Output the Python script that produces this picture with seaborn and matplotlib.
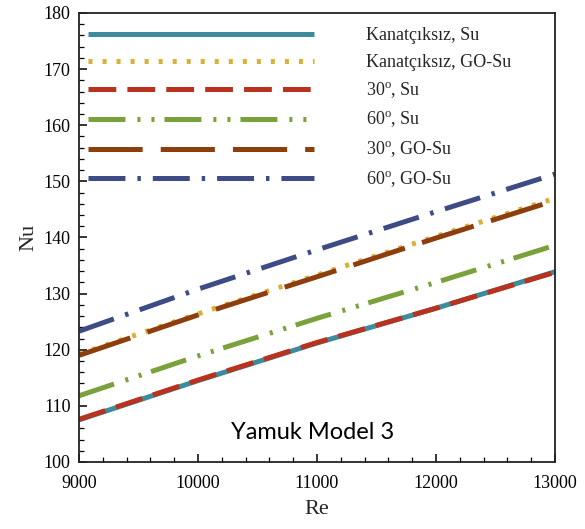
import matplotlib
matplotlib.use("Agg")
import matplotlib.pyplot as plt
import seaborn as sns
import numpy as np

# Reynolds numbers and Nusselt numbers for each configuration
re_values = [9000, 10000, 11000, 12000, 13000]
nu_plain_water = [107.5, 114.5, 121.2, 127.4, 133.9]
nu_plain_go = [119.2, 126.4, 133.3, 140.2, 147.0]
nu_30_water = [107.6, 114.6, 121.3, 127.4, 133.8]
nu_60_water = [111.8, 118.9, 125.6, 132.0, 138.6]
nu_30_go = [119.0, 126.2, 133.0, 139.9, 146.6]
nu_60_go = [123.3, 130.8, 137.8, 144.6, 151.3]

labels = [
    "Kanatçıksız, Su",
    "Kanatçıksız, GO-Su",
    "30$^{\\mathrm{o}}$, Su",
    "60$^{\\mathrm{o}}$, Su",
    "30$^{\\mathrm{o}}$, GO-Su",
    "60$^{\\mathrm{o}}$, GO-Su",
]
series = [nu_plain_water, nu_plain_go, nu_30_water, nu_60_water, nu_30_go, nu_60_go]
colors = ["#3D8C9E", "#D9B13A", "#B8321E", "#7AA23C", "#8E3E0C", "#3E4C85"]
styles = [
    "-",
    (0, (2.9, 7.2)),
    (0, (20, 8)),
    (0, (26.6, 8.6, 2.2, 7.9, 2.2, 7.2)),
    (0, (39, 13)),
    (0, (26.6, 8.6, 2.5, 8.6)),
]

sns.set_style("white")
plt.rcParams["font.family"] = ["Liberation Serif", "DejaVu Serif"]
plt.rcParams["mathtext.fontset"] = "custom"
plt.rcParams["mathtext.rm"] = "Liberation Serif"
plt.rcParams["lines.scale_dashes"] = False

fig = plt.figure(figsize=(5.85, 5.29), dpi=100)
ax = fig.add_axes([79 / 585, 1 - 462 / 529, (555 - 79) / 585, (462 - 13) / 529])

for y, lab, c, ls in zip(series, labels, colors, styles):
    sns.lineplot(x=re_values, y=y, ax=ax, color=c, linestyle=ls,
                 linewidth=3.6, label=lab, legend=False,
                 solid_capstyle="butt", dash_capstyle="butt")

ax.set_xlim(9000, 13000)
ax.set_ylim(100, 180)
ax.set_xticks(np.arange(9000, 13001, 1000))
ax.set_yticks(np.arange(100, 181, 10))
ax.set_xticks(np.arange(9000, 13001, 200), minor=True)
ax.set_yticks(np.arange(100, 181, 2), minor=True)
ax.tick_params(which="both", direction="in", left=True, bottom=True,
               right=False, top=False, colors="black")
ax.tick_params(which="major", length=6, width=1.1, labelsize=13)
ax.tick_params(axis="y", which="major", pad=6)
ax.tick_params(axis="x", which="major", pad=9)
ax.tick_params(which="minor", length=3.5, width=0.9)
for s in ax.spines.values():
    s.set_color("#222222")
    s.set_linewidth(1.3)

ax.set_xlabel("Re", fontsize=16, labelpad=6)
ax.set_ylabel("Nu", fontsize=16, labelpad=4)

ax.text(0.49, 0.065, "Yamuk Model 3", transform=ax.transAxes,
        family="Lato", fontsize=17, ha="center", va="center", color="black")

handles = ax.get_lines()
ax.legend(handles, labels, loc="upper left", bbox_to_anchor=(9 / 476, 0.968),
          frameon=False, fontsize=13, handlelength=12.5, handletextpad=2.9,
          labelspacing=0.53, borderpad=0, borderaxespad=0)

fig.savefig("out.png", dpi=100)
